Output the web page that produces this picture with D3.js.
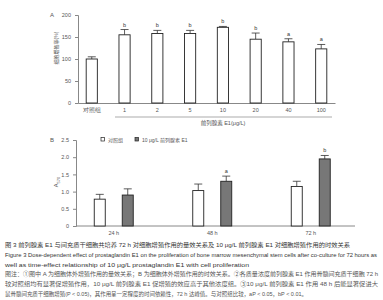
<!DOCTYPE html>
<html>
<head>
<meta charset="utf-8">
<script src="https://cdn.jsdelivr.net/npm/d3@7"></script>
<style>
  body { margin: 0; background: #fff; }
  svg { font-family: "Liberation Sans", "Noto Sans CJK SC", sans-serif; }
</style>
</head>
<body>
<svg id="chart" width="383" height="300"></svg>
<script>
// panel A: dose effect
const doseCats = ["对照组", "1", "2", "5", "10", "20", "40", "100"];
const doseVals = [100, 155, 158, 158, 172, 145, 139, 123];
const doseErr = [5, 12, 7, 7, 2, 14, 7, 10];
const doseSig = ["", "b", "b", "b", "b", "b", "a", "a"];
const doseTicks = [0, 50, 100, 150, 200];

// panel B: time effect
const timeCats = ["24 h", "48 h", "72 h"];
const seriesNames = ["对照组", "10 μg/L 前列腺素 E1"];
const ctrlVals = [0.78, 1.03, 1.15];
const ctrlErr = [0.14, 0.19, 0.15];
const pgeVals = [0.9, 1.3, 1.95];
const pgeErr = [0.18, 0.15, 0.1];
const pgeSig = ["", "a", "b"];
const timeTicks = [0, 0.5, 1.0, 1.5, 2.0, 2.5];

const captions = [
  "图 3  前列腺素 E1 与间充质干细胞共培养 72 h 对细胞增殖作用的量效关系及 10 μg/L 前列腺素 E1 对细胞增殖作用的时效关系",
  "Figure 3  Dose-dependent effect of prostaglandin E1 on the proliferation of bone marrow mesenchymal stem cells after co-culture for 72 hours as",
  "well as time-effect relationship of 10 μg/L prostaglandin E1 with cell proliferation",
  "图注：①图中 A 为细胞体外增殖作用的量效关系；B 为细胞体外增殖作用的时效关系。②各质量浓度前列腺素 E1 作用骨髓间充质干细胞 72 h",
  "较对照组均有显著促增殖作用，10 μg/L 前列腺素 E1 促增殖的效应高于其他浓度组。③10 μg/L 前列腺素 E1 作用 48 h 后能显著促进大",
  "鼠骨髓间充质干细胞增殖(P < 0.05)，其作用呈一定程度的时间依赖性，72 h 达峰值。与对照组比较，aP < 0.05，bP < 0.01。"
];
const captionEnds = [350, 377, 249, 378, 378, 307];

const svg = d3.select("#chart");
const axisCol = "#888";
const textCol = "#555";

// ---------- panel A ----------
const xA = d3.scaleBand().domain(doseCats).range([78, 335]).paddingInner(0.66).paddingOuter(0.25);
const yA = d3.scaleLinear().domain([0, 200]).range([103, 15]);

const gA = svg.append("g");
gA.append("g")
  .attr("transform", "translate(78,0)")
  .call(d3.axisLeft(yA).tickValues(doseTicks).tickSize(3).tickFormat(d3.format("d")))
  .call(g => g.selectAll("text").attr("font-size", 5.5).attr("fill", textCol).attr("dx", -1));
gA.append("g")
  .attr("transform", "translate(0,103)")
  .call(d3.axisBottom(xA).tickSize(0).tickPadding(5))
  .call(g => g.selectAll("text").attr("font-size", 5.5).attr("fill", textCol));
gA.selectAll(".domain").attr("stroke", axisCol);
gA.selectAll(".tick line").attr("stroke", axisCol);

gA.selectAll(".errA").data(doseVals).join("path").attr("class", "errA")
  .attr("d", (d, i) => {
    const cx = xA(doseCats[i]) + xA.bandwidth() / 2, top = yA(d + doseErr[i]);
    return `M${cx},${yA(d)}V${top}M${cx - 4},${top}H${cx + 4}`;
  })
  .attr("stroke", "#333").attr("stroke-width", 0.8).attr("fill", "none");
gA.selectAll(".barA").data(doseVals).join("rect").attr("class", "barA")
  .attr("x", (d, i) => xA(doseCats[i]))
  .attr("y", d => yA(d))
  .attr("width", xA.bandwidth())
  .attr("height", d => yA(0) - yA(d))
  .attr("fill", "#fff").attr("stroke", "#222").attr("stroke-width", 0.9);
gA.selectAll(".sigA").data(doseVals).join("text").attr("class", "sigA")
  .attr("x", (d, i) => xA(doseCats[i]) + xA.bandwidth() / 2)
  .attr("y", (d, i) => yA(d + doseErr[i]) - 3)
  .attr("text-anchor", "middle").attr("font-size", 5.5).attr("fill", "#333")
  .text((d, i) => doseSig[i]);

gA.append("text").attr("x", 50).attr("y", 17).attr("font-size", 6).attr("fill", textCol).text("A");
gA.append("text").attr("transform", "translate(58,48) rotate(-90)")
  .attr("text-anchor", "middle").attr("font-size", 5).attr("fill", textCol).text("细胞增殖率(%)");
gA.append("line").attr("x1", 115).attr("x2", 332).attr("y1", 117).attr("y2", 117)
  .attr("stroke", axisCol).attr("stroke-width", 0.7);
gA.append("text").attr("x", 223).attr("y", 125).attr("text-anchor", "middle")
  .attr("font-size", 5.5).attr("fill", textCol).text("前列腺素 E1(μg/L)");

// ---------- panel B ----------
const xB = d3.scaleBand().domain(timeCats).range([64.5, 360]);
// two bars inside each group, offsets from the group centre
const inner = d3.scaleBand().domain([0, 1]).range([-30.5, 30.5]).paddingInner(0.607).paddingOuter(0.393);
const yB = d3.scaleLinear().domain([0, 2.5]).range([226, 140]);

const gB = svg.append("g");
gB.append("g")
  .attr("transform", "translate(76,0)")
  .call(d3.axisLeft(yB).tickValues(timeTicks).tickSize(3).tickFormat(d => d === 0 ? "0" : d3.format(".1f")(d)))
  .call(g => g.selectAll("text").attr("font-size", 5.5).attr("fill", textCol).attr("dx", -1));
gB.append("g")
  .attr("transform", "translate(0,226)")
  .call(d3.axisBottom(xB).tickSize(0).tickPadding(5))
  .call(g => g.selectAll("text").attr("font-size", 5.5).attr("fill", textCol))
  .call(g => g.select(".domain").attr("d", "M76,0H355"));
gB.selectAll(".domain").attr("stroke", axisCol);
gB.selectAll(".tick line").attr("stroke", axisCol);

const series = [
  { vals: ctrlVals, err: ctrlErr, sig: ["", "", ""], fill: "#fff" },
  { vals: pgeVals, err: pgeErr, sig: pgeSig, fill: "#777" }
];
series.forEach((s, k) => {
  const gx = i => xB(timeCats[i]) + xB.bandwidth() / 2 + inner(k);
  gB.selectAll(".err" + k).data(s.vals).join("path").attr("class", "err" + k)
    .attr("d", (d, i) => {
      const cx = gx(i) + inner.bandwidth() / 2, top = yB(d + s.err[i]);
      return `M${cx},${yB(d)}V${top}M${cx - 4},${top}H${cx + 4}`;
    })
    .attr("stroke", "#333").attr("stroke-width", 0.8).attr("fill", "none");
  gB.selectAll(".bar" + k).data(s.vals).join("rect").attr("class", "bar" + k)
    .attr("x", (d, i) => gx(i))
    .attr("y", d => yB(d))
    .attr("width", inner.bandwidth())
    .attr("height", d => yB(0) - yB(d))
    .attr("fill", s.fill).attr("stroke", "#222").attr("stroke-width", 0.9);
  gB.selectAll(".sig" + k).data(s.vals).join("text").attr("class", "sig" + k)
    .attr("x", (d, i) => gx(i) + inner.bandwidth() / 2)
    .attr("y", (d, i) => yB(d + s.err[i]) - 3)
    .attr("text-anchor", "middle").attr("font-size", 5.5).attr("fill", "#333")
    .text((d, i) => s.sig[i]);
});

gB.append("text").attr("x", 50).attr("y", 142).attr("font-size", 6).attr("fill", textCol).text("B");
const yt = gB.append("text").attr("transform", "translate(58,182) rotate(-90)")
  .attr("text-anchor", "middle").attr("font-size", 5.5).attr("fill", textCol);
yt.append("tspan").text("A");
yt.append("tspan").attr("font-size", 4).attr("dy", 1.5).text("570");

// legend
const legX = [101, 135];
seriesNames.forEach((n, k) => {
  gB.append("rect").attr("x", legX[k]).attr("y", 137.5).attr("width", 3.5).attr("height", 3.5)
    .attr("fill", series[k].fill).attr("stroke", "#222").attr("stroke-width", 0.7);
  gB.append("text").attr("x", legX[k] + 7).attr("y", 141.5).attr("font-size", 5)
    .attr("fill", textCol).text(n);
});

// ---------- caption ----------
svg.selectAll(".cap").data(captions).join("text").attr("class", "cap")
  .attr("x", 5)
  .attr("y", (d, i) => 247 + i * 9.8)
  .attr("font-size", 5.6)
  .attr("fill", (d, i) => i < 3 ? "#333" : "#555")
  .attr("textLength", (d, i) => captionEnds[i] - 5)
  .attr("lengthAdjust", "spacingAndGlyphs")
  .text(d => d);
</script>
</body>
</html>
